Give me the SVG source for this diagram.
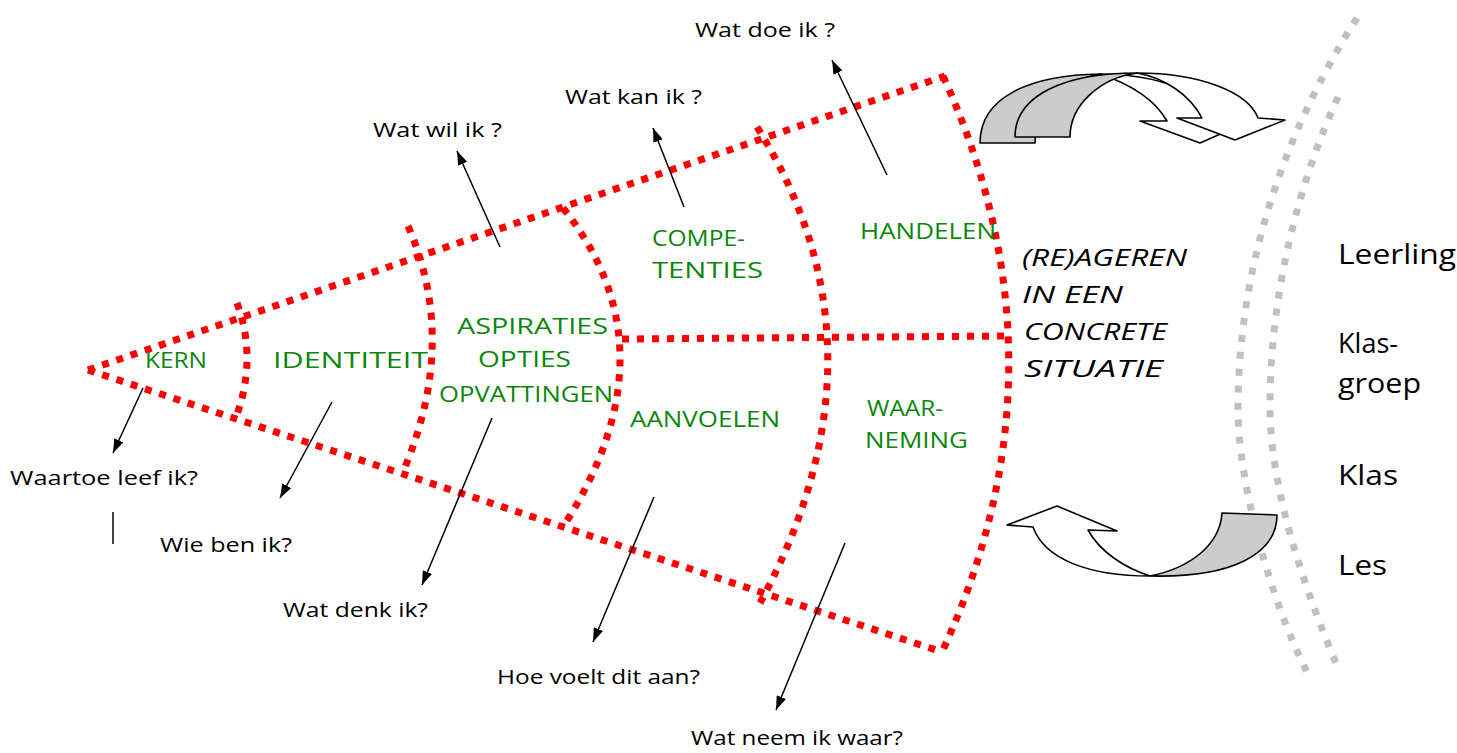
<svg xmlns="http://www.w3.org/2000/svg" width="1457" height="753" viewBox="0 0 1457 753">
<defs>
<style>
.red{fill:none;stroke:#ff0000;stroke-width:7;stroke-dasharray:7 8}
.gray{fill:none;stroke:#c0c0c0;stroke-width:7;stroke-dasharray:7 10}
.q{font-family:"Open Sans","DejaVu Sans",sans-serif;font-size:20px;fill:#000}
.g{font-family:"Open Sans","DejaVu Sans",sans-serif;font-size:22px;fill:#0a870a}
.it{font-family:"Open Sans","DejaVu Sans",sans-serif;font-size:24px;font-style:italic;fill:#000}
.r{font-family:"Open Sans","DejaVu Sans",sans-serif;font-size:28px;fill:#000}
.ln{fill:none;stroke:#000;stroke-width:1.5}
.ba{stroke:#000;stroke-width:1.6;stroke-linejoin:round}
</style>
<marker id="ah" markerUnits="userSpaceOnUse" markerWidth="14" markerHeight="10" refX="14" refY="5" orient="auto">
<path d="M0,0 L14,5 L0,10 Z" fill="#000"/>
</marker>
<clipPath id="clipOpv"><rect x="430" y="380" width="181" height="30"/></clipPath>
</defs>
<rect width="1457" height="753" fill="#fff"/>

<g id="fan">
<path class="red" d="M88,370 L945,76"/>
<path class="red" d="M88,370 L942,652"/>
<path class="red" d="M237,303 Q258,360 235,420"/>
<path class="red" d="M408,226 Q458,340 405,467"/>
<path class="red" d="M563,208 Q677,350 563,527"/>
<path class="red" d="M757,127 Q897,350 760,603"/>
<path class="red" d="M943,76 Q1075,365 942,652"/>
<path class="red" d="M622,339 L1008,336"/>
</g>

<g id="context-lines">
<path class="gray" d="M1357,18 C1295,115 1238,250 1238,410 C1238,480 1270,600 1307,672"/>
<path class="gray" d="M1338,97 C1300,180 1270,290 1270,407 C1270,490 1305,590 1338,668"/>
</g>

<g id="cycle-arrows">
<path class="ba" fill="#cccccc" d="M980,143 C980,97 1030,75 1100,74 C1070,80 1035,105 1035,143 Z"/>
<path class="ba" fill="#ffffff" d="M1100,74 C1160,74 1210,95 1222,121 L1250,121 L1200,143 L1140,121 L1167,121 C1155,100 1130,84 1100,74 Z"/>
<path class="ba" fill="#cccccc" d="M1015,137 C1015,95 1065,73 1137,73 C1100,78 1070,105 1070,137 Z"/>
<path class="ba" fill="#ffffff" d="M1137,73 C1200,73 1248,92 1258,118 L1285,120 L1235,140 L1177,118 L1202,118 C1190,95 1165,78 1137,73 Z"/>
<path class="ba" fill="#cccccc" d="M1222,513 L1277,515 C1277,555 1230,578 1150,576 C1190,568 1220,545 1222,513 Z"/>
<path class="ba" fill="#ffffff" d="M1150,576 C1090,576 1045,560 1033,527 L1007,525 L1057,506 L1117,531 L1088,530 C1100,552 1125,568 1150,576 Z"/>
</g>

<g id="connectors">
<path class="ln" d="M887,175 L832,60" marker-end="url(#ah)"/>
<path class="ln" d="M684,207 L653,128" marker-end="url(#ah)"/>
<path class="ln" d="M500,247 L457,151" marker-end="url(#ah)"/>
<path class="ln" d="M143,388 L113,453" marker-end="url(#ah)"/>
<path class="ln" d="M332,402 L280,498" marker-end="url(#ah)"/>
<path class="ln" d="M492,418 L422,585" marker-end="url(#ah)"/>
<path class="ln" d="M654,497 L593,642" marker-end="url(#ah)"/>
<path class="ln" d="M845,543 L776,710" marker-end="url(#ah)"/>
<path class="ln" d="M113,512 L113,544"/>
</g>

<g id="kern"><text class="g" x="145" y="368" textLength="62" lengthAdjust="spacingAndGlyphs">KERN</text></g>
<g id="identiteit"><text class="g" x="273" y="368" textLength="155" lengthAdjust="spacingAndGlyphs">IDENTITEIT</text></g>
<g id="aspiraties">
<text class="g" x="457" y="334" textLength="151" lengthAdjust="spacingAndGlyphs">ASPIRATIES</text>
<text class="g" x="478" y="367" textLength="93" lengthAdjust="spacingAndGlyphs">OPTIES</text>
<text class="g" x="439" y="402" textLength="174" lengthAdjust="spacingAndGlyphs" clip-path="url(#clipOpv)">OPVATTINGEN</text>
</g>
<g id="competenties">
<text class="g" x="652" y="246" textLength="93" lengthAdjust="spacingAndGlyphs">COMPE-</text>
<text class="g" x="652" y="278" textLength="111" lengthAdjust="spacingAndGlyphs">TENTIES</text>
</g>
<g id="handelen"><text class="g" x="860" y="239" textLength="136" lengthAdjust="spacingAndGlyphs">HANDELEN</text></g>
<g id="aanvoelen"><text class="g" x="630" y="427" textLength="150" lengthAdjust="spacingAndGlyphs">AANVOELEN</text></g>
<g id="waarneming">
<text class="g" x="867" y="416" textLength="76" lengthAdjust="spacingAndGlyphs">WAAR-</text>
<text class="g" x="865" y="448" textLength="103" lengthAdjust="spacingAndGlyphs">NEMING</text>
</g>
<g id="reageren">
<text class="it" x="1022" y="266" textLength="165" lengthAdjust="spacingAndGlyphs">(RE)AGEREN</text>
<text class="it" x="1022" y="303" textLength="101" lengthAdjust="spacingAndGlyphs">IN EEN</text>
<text class="it" x="1024" y="340" textLength="143" lengthAdjust="spacingAndGlyphs">CONCRETE</text>
<text class="it" x="1024" y="377" textLength="139" lengthAdjust="spacingAndGlyphs">SITUATIE</text>
</g>

<g id="questions">
<text class="q" x="695" y="37" textLength="140" lengthAdjust="spacingAndGlyphs">Wat doe ik ?</text>
<text class="q" x="565" y="104" textLength="137" lengthAdjust="spacingAndGlyphs">Wat kan ik ?</text>
<text class="q" x="373" y="137" textLength="129" lengthAdjust="spacingAndGlyphs">Wat wil ik ?</text>
<text class="q" x="10" y="485" textLength="188" lengthAdjust="spacingAndGlyphs">Waartoe leef ik?</text>
<text class="q" x="160" y="552" textLength="132" lengthAdjust="spacingAndGlyphs">Wie ben ik?</text>
<text class="q" x="283" y="617" textLength="145" lengthAdjust="spacingAndGlyphs">Wat denk ik?</text>
<text class="q" x="497" y="684" textLength="203" lengthAdjust="spacingAndGlyphs">Hoe voelt dit aan?</text>
<text class="q" x="691" y="745" textLength="212" lengthAdjust="spacingAndGlyphs">Wat neem ik waar?</text>
</g>

<g id="levels">
<text class="r" x="1338" y="264" textLength="118" lengthAdjust="spacingAndGlyphs">Leerling</text>
<text class="r" x="1338" y="353" textLength="60" lengthAdjust="spacingAndGlyphs">Klas-</text>
<text class="r" x="1338" y="393" textLength="83" lengthAdjust="spacingAndGlyphs">groep</text>
<text class="r" x="1338" y="485" textLength="60" lengthAdjust="spacingAndGlyphs">Klas</text>
<text class="r" x="1338" y="575" textLength="49" lengthAdjust="spacingAndGlyphs">Les</text>
</g>
</svg>
